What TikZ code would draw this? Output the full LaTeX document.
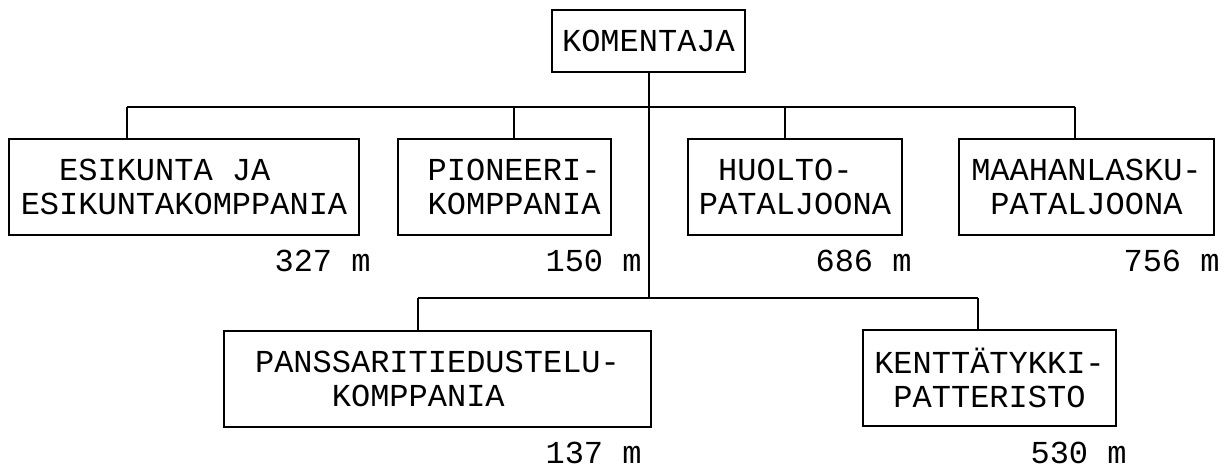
\documentclass[tikz,border=0pt]{standalone}
\usepackage{fontspec}
\setmonofont{Liberation Mono}
\usepackage{pgf,tikz}

\begin{document}
\begin{tikzpicture}[x=0.5pt,y=-0.5pt,
  unit/.style={draw, line width=1.4pt, inner sep=0pt, outer sep=0pt,
    minimum height=48pt},
  strength/.style={anchor=base east, inner sep=0pt},
  link/.style={line width=1pt}]
  \ttfamily\fontsize{16}{17}\selectfont
  \useasboundingbox (0,0) rectangle (1228,469);

  \node[unit, minimum width=96.5pt, minimum height=31pt] (Komentaja) at (648.5,41) {KOMENTAJA};

  \node[unit, minimum width=175pt, align=left] (Esikunta) at (184,187)
    {\hspace*{1.2em}ESIKUNTA JA\\ESIKUNTAKOMPPANIA};
  \node[unit, minimum width=106.5pt, align=center] (Pioneeri) at (504.5,187)
    {\hspace*{0.6em}PIONEERI-\\\hspace*{0.6em}KOMPPANIA};
  \node[unit, minimum width=107pt, align=left] (Huolto) at (795,187)
    {\hspace*{0.6em}HUOLTO-\\PATALJOONA};
  \node[unit, minimum width=127.5pt, align=center] (Maahanlasku) at (1086.5,187)
    {MAAHANLASKU-\\PATALJOONA};
  \node[unit, minimum width=213.5pt, align=left] (Panssari) at (437.5,379)
    {PANSSARITIEDUSTELU-\\\hspace*{2.4em}KOMPPANIA};
  \node[unit, minimum width=126.5pt, align=center] (Kenttatykki) at (989.5,378)
    {KENTTÄTYKKI-\\PATTERISTO};

  % strengths
  \node[strength] (mEsikunta) at (371,272) {327 m};
  \node[strength] (mPioneeri) at (642,272) {150 m};
  \node[strength] (mHuolto) at (912,272) {686 m};
  \node[strength] (mMaahanlasku) at (1220,272) {756 m};
  \node[strength] (mPanssari) at (642,464) {137 m};
  \node[strength] (mKenttatykki) at (1127,464) {530 m};

  % bus lines
  \coordinate (Top1) at (127,107);
  \coordinate (Top2) at (514,107);
  \coordinate (Top3) at (785,107);
  \coordinate (Top4) at (1075,107);
  \coordinate (Low1) at (418,298);
  \coordinate (Low2) at (978,298);
  \coordinate (Trunk) at (Komentaja.south |- Low1);

  \draw[link] (Komentaja.south) -- (Trunk);
  \draw[link] (Top1) -- (Top4);
  \draw[link] (Low1) -- (Low2);
  \draw[link] (Top1) -- (Top1 |- Esikunta.north);
  \draw[link] (Top2) -- (Top2 |- Pioneeri.north);
  \draw[link] (Top3) -- (Top3 |- Huolto.north);
  \draw[link] (Top4) -- (Top4 |- Maahanlasku.north);
  \draw[link] (Low1) -- (Low1 |- Panssari.north);
  \draw[link] (Low2) -- (Low2 |- Kenttatykki.north);
\end{tikzpicture}
\end{document}
